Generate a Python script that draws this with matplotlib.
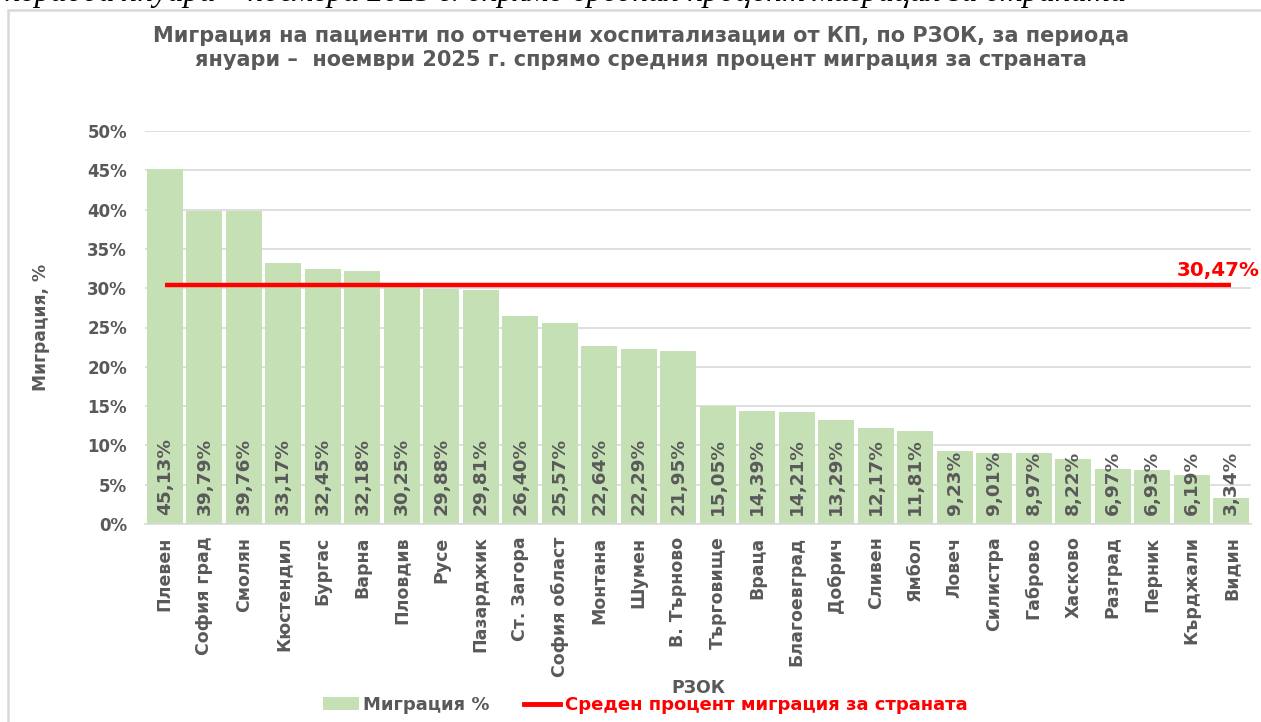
import matplotlib
matplotlib.use("Agg")
import matplotlib.pyplot as plt
from matplotlib.patches import Rectangle, Patch
from matplotlib.lines import Line2D
import numpy as np

categories = ["Плевен", "София град", "Смолян", "Кюстендил", "Бургас", "Варна",
              "Пловдив", "Русе", "Пазарджик", "Ст. Загора", "София област", "Монтана",
              "Шумен", "В. Търново", "Търговище", "Враца", "Благоевград", "Добрич",
              "Сливен", "Ямбол", "Ловеч", "Силистра", "Габрово", "Хасково", "Разград",
              "Перник", "Кърджали", "Видин"]
migration = [45.13, 39.79, 39.76, 33.17, 32.45, 32.18, 30.25, 29.88, 29.81, 26.40,
             25.57, 22.64, 22.29, 21.95, 15.05, 14.39, 14.21, 13.29, 12.17, 11.81,
             9.23, 9.01, 8.97, 8.22, 6.97, 6.93, 6.19, 3.34]
mean_migration = 30.47
yticks = [0, 5, 10, 15, 20, 25, 30, 35, 40, 45, 50]

title = ("Миграция на пациенти по отчетени хоспитализации от КП, по РЗОК, за периода\n"
         "януари –  ноември 2025 г. спрямо средния процент миграция за страната")
caption = "за периода януари – ноември 2025 г. спрямо средния процент миграция за страната"

GREY = "#595959"
GREEN = "#C5E0B4"
RED = "#FF0000"
GRID = "#D9D9D9"

plt.rcParams['font.family'] = ['DejaVu Sans']

W, H = 1261, 722
fig = plt.figure(figsize=(W / 100, H / 100), dpi=100)
fig.patch.set_facecolor("white")

# outer frame (chart border, partially off-canvas)
fig.patches.append(Rectangle((8 / W, -0.1), 1.2, 1 - 10 / H + 0.1, transform=fig.transFigure,
                             fill=False, edgecolor=GRID, linewidth=1.8))

# cut-off caption at top
fig.text(1127 / W, 1 - 1.5 / H, caption, ha="right", va="baseline",
         fontsize=23, family="Liberation Serif", style="italic", color="black")

ax = fig.add_axes([145 / W, 1 - 524 / H, (1251 - 145) / W, (524 - 131) / H])
x = np.arange(len(categories))
vals = np.array(migration) / 100.0
ax.bar(x, vals, width=0.91, color=GREEN, zorder=2, label="Миграция %")
ax.plot(x, [mean_migration / 100.0] * len(x), color=RED, linewidth=3.2, zorder=3,
        solid_capstyle="butt", label="Среден процент миграция за страната")

ax.set_xlim(-0.5, len(categories) - 0.5)
ax.set_ylim(0, 0.5)
ax.set_yticks([t / 100 for t in yticks])
ax.set_yticklabels([f"{t}%" for t in yticks], fontsize=12, fontweight="bold", color=GREY)
ax.set_xticks(x)
ax.set_xticklabels(categories, rotation=90, fontsize=12.5, fontweight="bold", color=GREY)
ax.tick_params(axis="both", length=0)
ax.tick_params(axis="y", pad=13)
ax.tick_params(axis="x", pad=9)
ax.grid(axis="y", color=GRID, linewidth=1.2, zorder=0)
for s in ["top", "right", "left"]:
    ax.spines[s].set_visible(False)
ax.spines["bottom"].set_color(GRID)
ax.spines["bottom"].set_linewidth(1.2)

for xi, v in zip(x, migration):
    ax.annotate(f"{v:.2f}%".replace(".", ","), xy=(xi, 0), xytext=(0, 6.5),
                textcoords="offset points", rotation=90, ha="center", va="bottom",
                fontsize=13.3, fontweight="bold", color=GREY, zorder=4)

ax.annotate(f"{mean_migration:.2f}%".replace(".", ","), xy=(len(x) - 1, mean_migration / 100),
            xytext=(20.5, 3), textcoords="offset points", ha="right", va="bottom",
            fontsize=14.3, fontweight="bold", color=RED, zorder=5)

ax.set_ylabel("Миграция, %", fontsize=12.3, fontweight="bold", color=GREY, labelpad=27)
ax.set_xlabel("РЗОК", fontsize=12.5, fontweight="bold", color=GREY, labelpad=1.5)

fig.text(641 / W, 1 - 48 / H, title, ha="center", va="center", fontsize=15,
         fontweight="bold", color=GREY, linespacing=1.25)

handles = [Patch(facecolor=GREEN, edgecolor="none"),
           Line2D([0], [0], color=RED, linewidth=3.5)]
leg = fig.legend(handles, ["Миграция %", "Среден процент миграция за страната"],
                 loc="center", bbox_to_anchor=(645 / W, 1 - 705 / H), ncol=2,
                 frameon=False, prop={"size": 13, "weight": "bold"},
                 handlelength=2.0, handletextpad=0.25, columnspacing=1.9,
                 borderpad=0.1)
for t, c in zip(leg.get_texts(), [GREY, RED]):
    t.set_color(c)

fig.savefig("out.png", dpi=100, facecolor="white")
